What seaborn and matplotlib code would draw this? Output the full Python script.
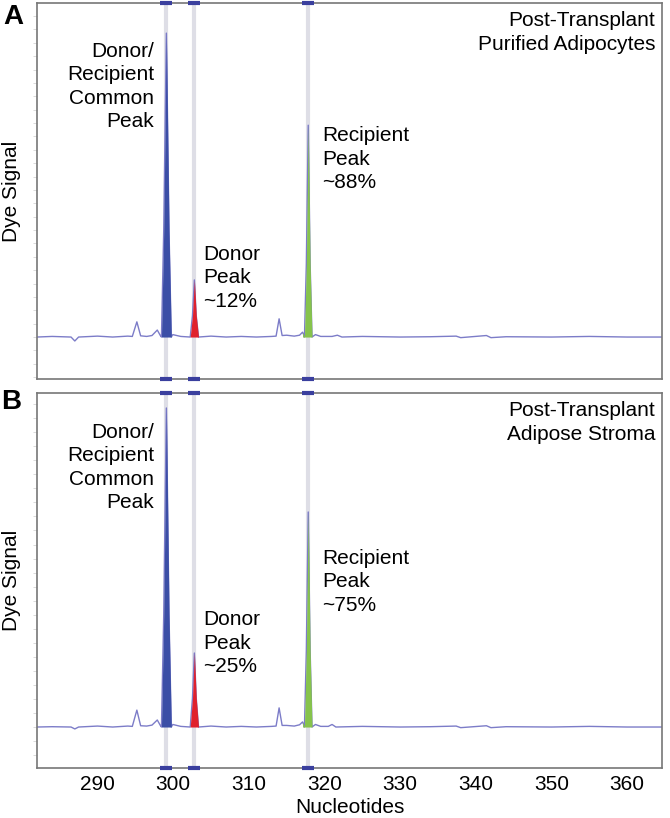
import numpy as np
import pandas as pd
import matplotlib
matplotlib.use("Agg")
import matplotlib.pyplot as plt
from matplotlib.ticker import MultipleLocator
import seaborn as sns

# Data
peak_pos = [299.1, 302.8, 317.85]          # common, donor, recipient
peak_names = ["common", "donor", "recipient"]

nt_a = [282.0, 284.0, 286.5, 287.0, 287.5, 290.0, 292.0, 294.0, 294.6, 295.2, 295.7,
        296.5, 297.2, 297.9, 298.3, 298.45, 298.75, 299.1, 299.45, 299.75, 299.95, 301.0,
        302.25, 302.55, 302.8, 303.05, 303.35, 305.0, 307.0, 309.0, 311.0, 313.0, 313.6,
        314.0, 314.4, 315.0, 316.0, 316.7, 317.1, 317.3, 317.35, 317.6, 317.85, 318.1,
        318.35, 318.8, 319.5, 321.0, 321.7, 322.3, 325.0, 330.0, 334.0, 337.4, 338.0,
        341.4, 342.0, 344.0, 350.0, 355.0, 360.0, 364.6]
sig_a = [0.0, 0.2, 0.0, -1.3, 0.0, 0.3, 0.0, 0.3, 0.2, 5.0, 0.4,
         0.2, 0.5, 2.3, 0.5, 0.0, 35.0, 100.0, 35.0, 0.0, 0.8, 0.2,
         0.0, 7.0, 18.8, 7.0, 0.0, 0.3, 0.0, 0.2, 0.0, 0.2, 0.3,
         6.0, 0.5, 0.6, 0.3, 0.6, 1.6, 0.5, 0.0, 24.0, 69.7, 24.0,
         0.0, 0.8, 0.2, 0.2, 0.6, 0.0, 0.2, 0.0, 0.1, 0.3, -0.2,
         0.5, -0.2, 0.1, 0.0, 0.2, 0.0, 0.0]

nt_b = [282.0, 284.0, 286.5, 287.0, 287.5, 290.0, 292.0, 294.0, 294.6, 295.2, 295.7,
        296.5, 297.2, 297.9, 298.3, 298.45, 298.75, 299.1, 299.45, 299.75, 299.95, 301.0,
        302.25, 302.55, 302.8, 303.05, 303.35, 305.0, 307.0, 309.0, 311.0, 313.0, 313.6,
        314.0, 314.4, 315.0, 316.0, 316.7, 317.1, 317.3, 317.35, 317.6, 317.85, 318.1,
        318.35, 318.8, 319.5, 320.5, 321.0, 321.5, 325.0, 330.0, 334.0, 337.4, 338.0,
        341.4, 342.0, 344.0, 350.0, 355.0, 360.0, 364.6]
sig_b = [0.0, 0.1, 0.0, -0.6, 0.0, 0.3, 0.0, 0.3, 0.2, 5.3, 0.4,
         0.3, 0.6, 2.2, 0.5, 0.0, 35.0, 100.0, 35.0, 0.0, 0.8, 0.2,
         0.0, 9.0, 23.2, 9.0, 0.0, 0.3, 0.0, 0.2, 0.0, 0.2, 0.3,
         6.0, 0.5, 0.5, 0.3, 0.7, 1.6, 0.5, 0.0, 24.0, 67.4, 24.0,
         0.0, 0.8, 0.2, 0.2, 0.8, 0.0, 0.2, 0.0, 0.1, 0.3, -0.2,
         0.4, -0.2, 0.1, 0.0, 0.2, 0.0, 0.0]

x_ticks = [290, 300, 310, 320, 330, 340, 350, 360]

TRACE = "#7c7cc8"
FILLS = {"common": "#3b4ea6", "donor": "#e0212d", "recipient": "#86c34c"}
BAND = "#dedee6"
MARK = "#3a3f9e"
SPINE = "#777777"

sns.set_style("white")
plt.rcParams["font.family"] = ["Liberation Sans", "DejaVu Sans"]
plt.rcParams["text.color"] = "black"
plt.rcParams["axes.labelcolor"] = "black"
plt.rcParams["xtick.color"] = "black"
FS = 15
LS = 1.3

fig = plt.figure(figsize=(6.7, 8.18), dpi=100)
ax_a = fig.add_axes([0.0552, 0.5367, 0.9328, 0.4596])
ax_b = fig.add_axes([0.0552, 0.0611, 0.9328, 0.4585])


def draw_panel(ax, nt, sig, ylim, title, texts):
    df = pd.DataFrame({"nt": nt, "sig": sig})
    for p in peak_pos:
        ax.axvline(p, color=BAND, lw=3.0, zorder=1)
    sns.lineplot(data=df, x="nt", y="sig", ax=ax, color=TRACE, lw=1.0,
                 estimator=None, zorder=2)
    x = np.asarray(nt)
    y = np.asarray(sig)
    for p, name in zip(peak_pos, peak_names):
        m = np.abs(x - p) <= 0.8
        ax.fill_between(x[m], y[m], 0, color=FILLS[name], lw=0, zorder=3)
    tr = ax.get_xaxis_transform()
    for yy in (0, 1):
        ax.plot(peak_pos, [yy] * len(peak_pos), transform=tr, ls="none",
                marker="_", ms=8, mew=3, color=MARK, clip_on=False, zorder=5)
    ax.set_xlim(282.0, 364.6)
    ax.set_ylim(*ylim)
    for s in ax.spines.values():
        s.set_color(SPINE)
        s.set_linewidth(1.2)
    ax.set_xticks(x_ticks)
    ax.yaxis.set_major_locator(MultipleLocator(4.4))
    ax.tick_params(axis="y", left=True, length=3, width=0.6, color="#d4d4d4",
                   labelleft=False)
    ax.tick_params(axis="x", bottom=False, length=0, pad=5, labelsize=FS,
                   labelcolor="black")
    ax.set_xlabel("")
    ax.set_ylabel("Dye Signal", fontsize=FS)
    ax.yaxis.set_label_coords(-0.0256, 0.5)
    ax.text(0.989, 0.921, title, transform=ax.transAxes, ha="right", va="center",
            fontsize=FS, linespacing=LS)
    for tx, ty, ha, s in texts:
        ax.text(tx, ty, s, ha=ha, va="center", fontsize=FS, linespacing=LS)


draw_panel(ax_a, nt_a, sig_a, (-13.8, 109.9),
           "Post-Transplant\nPurified Adipocytes",
           [(297.5, 82.5, "right", "Donor/\nRecipient\nCommon\nPeak"),
            (304.0, 19.5, "left", "Donor\nPeak\n~12%"),
            (319.7, 58.5, "left", "Recipient\nPeak\n~88%")])
draw_panel(ax_b, nt_b, sig_b, (-12.85, 104.7),
           "Post-Transplant\nAdipose Stroma",
           [(297.5, 81.3, "right", "Donor/\nRecipient\nCommon\nPeak"),
            (304.0, 26.3, "left", "Donor\nPeak\n~25%"),
            (319.7, 45.5, "left", "Recipient\nPeak\n~75%")])

ax_a.tick_params(axis="x", labelbottom=False)
ax_b.set_xlabel("Nucleotides", fontsize=FS)
ax_b.xaxis.set_label_coords(0.5, -0.08)

fig.text(13.5 / 670, 1 - 16.5 / 818, "A", fontsize=20, fontweight="bold",
         ha="center", va="center")
fig.text(11 / 670, 1 - 402 / 818, "B", fontsize=20, fontweight="bold",
         ha="center", va="center")

fig.savefig("out.png", dpi=100)
plt.close(fig)
